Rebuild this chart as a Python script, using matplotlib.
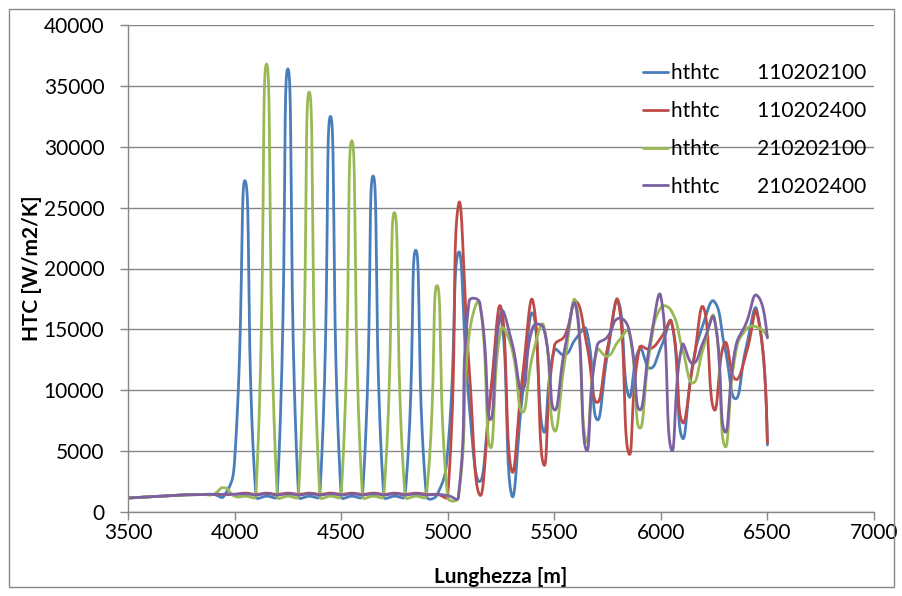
import numpy as np
import matplotlib
matplotlib.use("Agg")
import matplotlib.pyplot as plt
from matplotlib.patches import Rectangle

plt.rcParams['font.family'] = ['Lato', 'DejaVu Sans']

# sample positions along the pipe [m]
lunghezza = list(range(3500, 6550, 50))

base = [1150, 1200, 1250, 1300, 1350, 1400, 1420, 1440, 1450]

blue = base + [1300,
               4200, 27200, 1300, 1300, 1350, 36400, 1300, 1300, 1350, 32500,
               1300, 1300, 1350, 27600, 1300, 1300, 1350, 21500, 1300, 1400,
               5000, 21300, 9000, 2500, 9500, 15900, 1400, 9500, 16300, 6600,
               13300, 12900, 14200, 15000, 7600, 13000, 17300, 9500, 13400, 11800,
               13500, 15600, 6100, 12200, 15500, 17300, 13500, 9300, 13500, 16600,
               5500]

red = base + [1450,
              1450, 1550, 1450, 1550, 1450, 1550, 1450, 1550, 1450, 1550,
              1450, 1550, 1450, 1550, 1450, 1550, 1450, 1550, 1450, 1450,
              1300, 25200, 12000, 1400, 9500, 16800, 3400, 11000, 17300, 3900,
              13600, 14500, 17300, 14000, 9000, 13500, 17300, 4800, 13500, 13400,
              14300, 15600, 7400, 12000, 16800, 8400, 13900, 10900, 13000, 16400,
              5700]

green = base + [2000,
                1300, 1300, 1350, 36800, 1300, 1300, 1350, 34500, 1300, 1300,
                1350, 30500, 1300, 1300, 1350, 24600, 1300, 1300, 1350, 18600,
                1200, 1200, 14500, 17100, 5300, 15000, 13500, 8200, 13000, 15300,
                6700, 12500, 17300, 5800, 13300, 12800, 14000, 14800, 6900, 13500,
                16800, 16500, 13500, 10600, 13500, 16000, 5400, 13000, 15000, 15200,
                14400]

purple = base + [1450,
                 1450, 1500, 1400, 1500, 1400, 1500, 1400, 1500, 1400, 1500,
                 1400, 1500, 1400, 1500, 1400, 1500, 1400, 1500, 1400, 1450,
                 1350, 1200, 17300, 17200, 7600, 16400, 14000, 10000, 15200, 15100,
                 8400, 13500, 17000, 5100, 13600, 14400, 15900, 15000, 8400, 14000,
                 17700, 5100, 13700, 12200, 14000, 15900, 6600, 13500, 15500, 17800,
                 14300]

labels = ["hthtc       110202100", "hthtc       110202400",
          "hthtc       210202100", "hthtc       210202400"]
colors = ["#4A7EBB", "#BE4B48", "#98B954", "#7D60A0"]

# pixel scale of the plot area, used so the smoothing works in screen space
SX = 746 / 3500.0
SY = 487 / 40000.0


def smooth(x, y, steps=24, t=0.5):
    # Excel-like smoothed line: Bezier with control points scaled
    # by the neighbouring segment lengths (in screen units)
    P = np.column_stack([np.asarray(x, float) * SX, np.asarray(y, float) * SY])
    n = len(P)
    cin = P.copy()
    cout = P.copy()
    for i in range(1, n - 1):
        d01 = np.hypot(*(P[i] - P[i - 1]))
        d12 = np.hypot(*(P[i + 1] - P[i]))
        tan = P[i + 1] - P[i - 1]
        cin[i] = P[i] - t * d01 / (d01 + d12) * tan
        cout[i] = P[i] + t * d12 / (d01 + d12) * tan
    cout[0] = P[0] + (cin[1] - P[0]) / 2
    cin[-1] = P[-1] + (cout[-2] - P[-1]) / 2
    u = np.linspace(0, 1, steps, endpoint=False)[:, None]
    pts = []
    for i in range(n - 1):
        p0, p1, p2, p3 = P[i], cout[i], cin[i + 1], P[i + 1]
        pts.append((1 - u) ** 3 * p0 + 3 * (1 - u) ** 2 * u * p1
                   + 3 * (1 - u) * u ** 2 * p2 + u ** 3 * p3)
    pts.append(P[-1:])
    pts = np.vstack(pts)
    return pts[:, 0] / SX, pts[:, 1] / SY


fig = plt.figure(figsize=(9.03, 5.96), dpi=100)
ax = fig.add_axes([128 / 903, 1 - 512 / 596, (874 - 128) / 903, (512 - 25) / 596])

for series, col, lab in zip([blue, red, green, purple], colors, labels):
    sx, sy = smooth(lunghezza, series)
    ax.plot(sx, sy, color=col, lw=2.0, label=lab, solid_capstyle='round')

gray = "#868686"
ax.set_xlim(3500, 7000)
ax.set_ylim(0, 40000)
ax.set_xticks(range(3500, 7001, 500))
ax.set_yticks(range(0, 40001, 5000))
ax.yaxis.grid(True, color=gray, lw=1)
ax.set_axisbelow(True)
for s in ["top", "right"]:
    ax.spines[s].set_visible(False)
for s in ["left", "bottom"]:
    ax.spines[s].set_color(gray)
    ax.spines[s].set_linewidth(1)
ax.tick_params(axis='both', direction='out', length=6, width=1, color=gray,
               labelsize=15, labelcolor='black')
ax.tick_params(axis='x', pad=2)
ax.tick_params(axis='y', pad=11)

ax.set_xlabel("Lunghezza [m]", fontsize=15, fontweight='bold', labelpad=17)
ax.set_ylabel("HTC [W/m2/K]", fontsize=15, fontweight='bold', labelpad=1)

fig.legend(loc='upper left', bbox_to_anchor=(643 / 903, 1 - 63 / 596),
           frameon=False, fontsize=15, handlelength=1.2, handletextpad=0.15,
           labelspacing=0.86, borderpad=0, borderaxespad=0)

fig.patches.append(Rectangle((9 / 903, 9 / 596), (894 - 9) / 903, (587 - 9) / 596,
                             transform=fig.transFigure, fill=False,
                             edgecolor=gray, lw=1))

fig.savefig("out.png", dpi=100)
